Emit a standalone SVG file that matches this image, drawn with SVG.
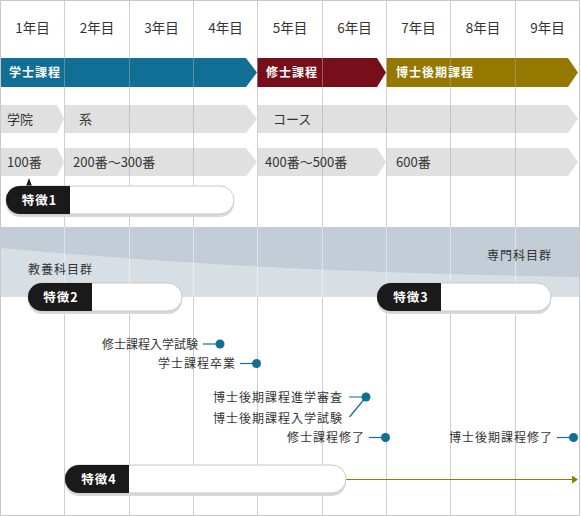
<svg xmlns="http://www.w3.org/2000/svg" width="581" height="516" viewBox="0 0 581 516">
<style>
text{font-family:"Noto Sans CJK JP","Noto Sans",sans-serif;fill:#333}
.yr{font-size:13.5px;text-anchor:middle}
.deg{font-size:12px;font-weight:bold;fill:#fff;letter-spacing:1px}
.lb{font-size:13px}
.gp{font-size:12px;letter-spacing:1px}
.ev{font-size:12px;letter-spacing:1px}
.ev0{font-size:12px;letter-spacing:0px}
.pt{font-size:12.5px;font-weight:bold;fill:#fff;text-anchor:middle;letter-spacing:1px}
.gr{fill:#e0e0e0}
.gl{stroke:#a8a8a8;stroke-opacity:0.55;stroke-width:1}
.gw{stroke:#fff;stroke-opacity:0.45;stroke-width:1}
.ps{fill:#d8d8d8}
.pw{fill:#fff;stroke:#c8c8c8;stroke-width:1}
.pb{fill:#1a1a1a}
.ed{fill:#116e94}
.el{stroke:#116e94;stroke-width:1.2;fill:none}
</style>
<defs>
<marker id="ah" markerWidth="6" markerHeight="8" refX="5" refY="4" orient="auto" markerUnits="userSpaceOnUse">
<path d="M0,0 L6,4 L0,8 Z" fill="#957800"/>
</marker>
</defs>
<rect x="0" y="0" width="581" height="516" fill="#fff"/>
<g id="band">
<rect x="0.5" y="227" width="579" height="70" fill="#d7dee4"/>
<path d="M0.5,227 H579.5 V277 C400,273 250,270 0.5,248 Z" fill="#c3cdd7"/>
</g>
<g id="degrees">
<polygon points="0,58 246,58 257,72.5 246,87 0,87" fill="#116e94"/>
<polygon points="257,58 377,58 386,72.5 377,87 257,87" fill="#760f19"/>
<polygon points="386.5,58 568,58 578,72.5 568,87 386.5,87" fill="#957800"/>
</g>
<g id="rows">
<polygon class="gr" points="0,105 57,105 64,119 57,133 0,133"/>
<polygon class="gr" points="65,105 246,105 257,119 246,133 65,133"/>
<polygon class="gr" points="258,105 568,105 578,119 568,133 258,133"/>
<polygon class="gr" points="0,148 57,148 64,162 57,176 0,176"/>
<polygon class="gr" points="65,148 246,148 257,162 246,176 65,176"/>
<polygon class="gr" points="258,148 377,148 386,162 377,176 258,176"/>
<polygon class="gr" points="387,148 568,148 578,162 568,176 387,176"/>
</g>
<g id="grid">
<path class="gl" d="M64.5,0 V227 M64.5,297 V516 M129.5,0 V227 M129.5,297 V516 M193.5,0 V227 M193.5,297 V516 M257.5,0 V227 M257.5,297 V516 M322.5,0 V227 M322.5,297 V516 M386.5,0 V227 M386.5,297 V516 M450.5,0 V227 M450.5,297 V516 M515.5,0 V227 M515.5,297 V516"/>
<path class="gw" d="M64.5,227 V297 M129.5,227 V297 M193.5,227 V297 M257.5,227 V297 M322.5,227 V297 M386.5,227 V297 M450.5,227 V297 M515.5,227 V297"/>
<rect x="0.5" y="0.5" width="579" height="515" fill="none" stroke="#c8c8c8" stroke-width="1"/>
</g>
<g id="years">
<text class="yr" x="32.5" y="33">1年目</text>
<text class="yr" x="97" y="33">2年目</text>
<text class="yr" x="161.5" y="33">3年目</text>
<text class="yr" x="225.5" y="33">4年目</text>
<text class="yr" x="290" y="33">5年目</text>
<text class="yr" x="354.5" y="33">6年目</text>
<text class="yr" x="418.5" y="33">7年目</text>
<text class="yr" x="483" y="33">8年目</text>
<text class="yr" x="547.5" y="33">9年目</text>
</g>
<g id="degree-labels">
<text class="deg" x="9" y="77">学士課程</text>
<text class="deg" x="266" y="77">修士課程</text>
<text class="deg" x="396" y="77">博士後期課程</text>
</g>
<g id="row-labels">
<text class="lb" x="7" y="123.5">学院</text>
<text class="lb" x="79" y="123.5">系</text>
<text class="lb" x="273" y="123.5">コース</text>
<text class="lb" x="7" y="166.5">100番</text>
<text class="lb" x="73" y="166.5">200番～300番</text>
<text class="lb" x="265" y="166.5">400番～500番</text>
<text class="lb" x="396" y="166.5">600番</text>
<text class="gp" x="28" y="273.5">教養科目群</text>
<text class="gp" x="487" y="259.5">専門科目群</text>
</g>
<g id="feature1">
<polygon class="pb" points="26,186 29,178 32,186"/>
<rect class="ps" x="6" y="189" width="228" height="28" rx="14"/>
<rect class="pw" x="6" y="186" width="228" height="28" rx="14"/>
<path class="pb" d="M70,186 H20 A14,14 0 0 0 20,214 H70 Z"/>
<text class="pt" x="39.5" y="204.5">特徴1</text>
</g>
<g id="feature2">
<rect class="ps" x="28" y="286" width="154" height="28" rx="14"/>
<rect class="pw" x="28" y="283" width="154" height="28" rx="14"/>
<path class="pb" d="M92,283 H42 A14,14 0 0 0 42,311 H92 Z"/>
<text class="pt" x="61" y="301.5">特徴2</text>
</g>
<g id="feature3">
<rect class="ps" x="377" y="286" width="174" height="28" rx="14"/>
<rect class="pw" x="377" y="283" width="174" height="28" rx="14"/>
<path class="pb" d="M441,283 H391 A14,14 0 0 0 391,311 H441 Z"/>
<text class="pt" x="411" y="301.5">特徴3</text>
</g>
<g id="connectors">
<path class="el" d="M203,344 H217"/>
<path class="el" d="M240,363.5 H253"/>
<path class="el" d="M349,397 H362 M366,397 L349.5,417"/>
<path class="el" d="M369,437.5 H382"/>
<path class="el" d="M557,437.5 H570"/>
<path d="M346,479.5 H577" stroke="#957800" stroke-width="1" fill="none" marker-end="url(#ah)"/>
</g>
<g id="events">
<circle class="ed" cx="220" cy="344" r="4.5"/>
<text class="ev0" x="102" y="348.5">修士課程入学試験</text>
<circle class="ed" cx="256.5" cy="363.5" r="4.5"/>
<text class="ev" x="158" y="368">学士課程卒業</text>
<circle class="ed" cx="366" cy="397" r="4.5"/>
<text class="ev" x="213" y="401.5">博士後期課程進学審査</text>
<text class="ev" x="213" y="422.5">博士後期課程入学試験</text>
<circle class="ed" cx="385.5" cy="437.5" r="4.5"/>
<text class="ev" x="287" y="442">修士課程修了</text>
<circle class="ed" cx="573.5" cy="437.5" r="4.5"/>
<text class="ev" x="449" y="442">博士後期課程修了</text>
</g>
<g id="feature4">
<rect class="ps" x="65" y="468" width="281" height="28" rx="14"/>
<rect class="pw" x="65" y="465" width="281" height="28" rx="14"/>
<path class="pb" d="M129,465 H79 A14,14 0 0 0 79,493 H129 Z"/>
<text class="pt" x="99" y="483.5">特徴4</text>
</g>
</svg>
